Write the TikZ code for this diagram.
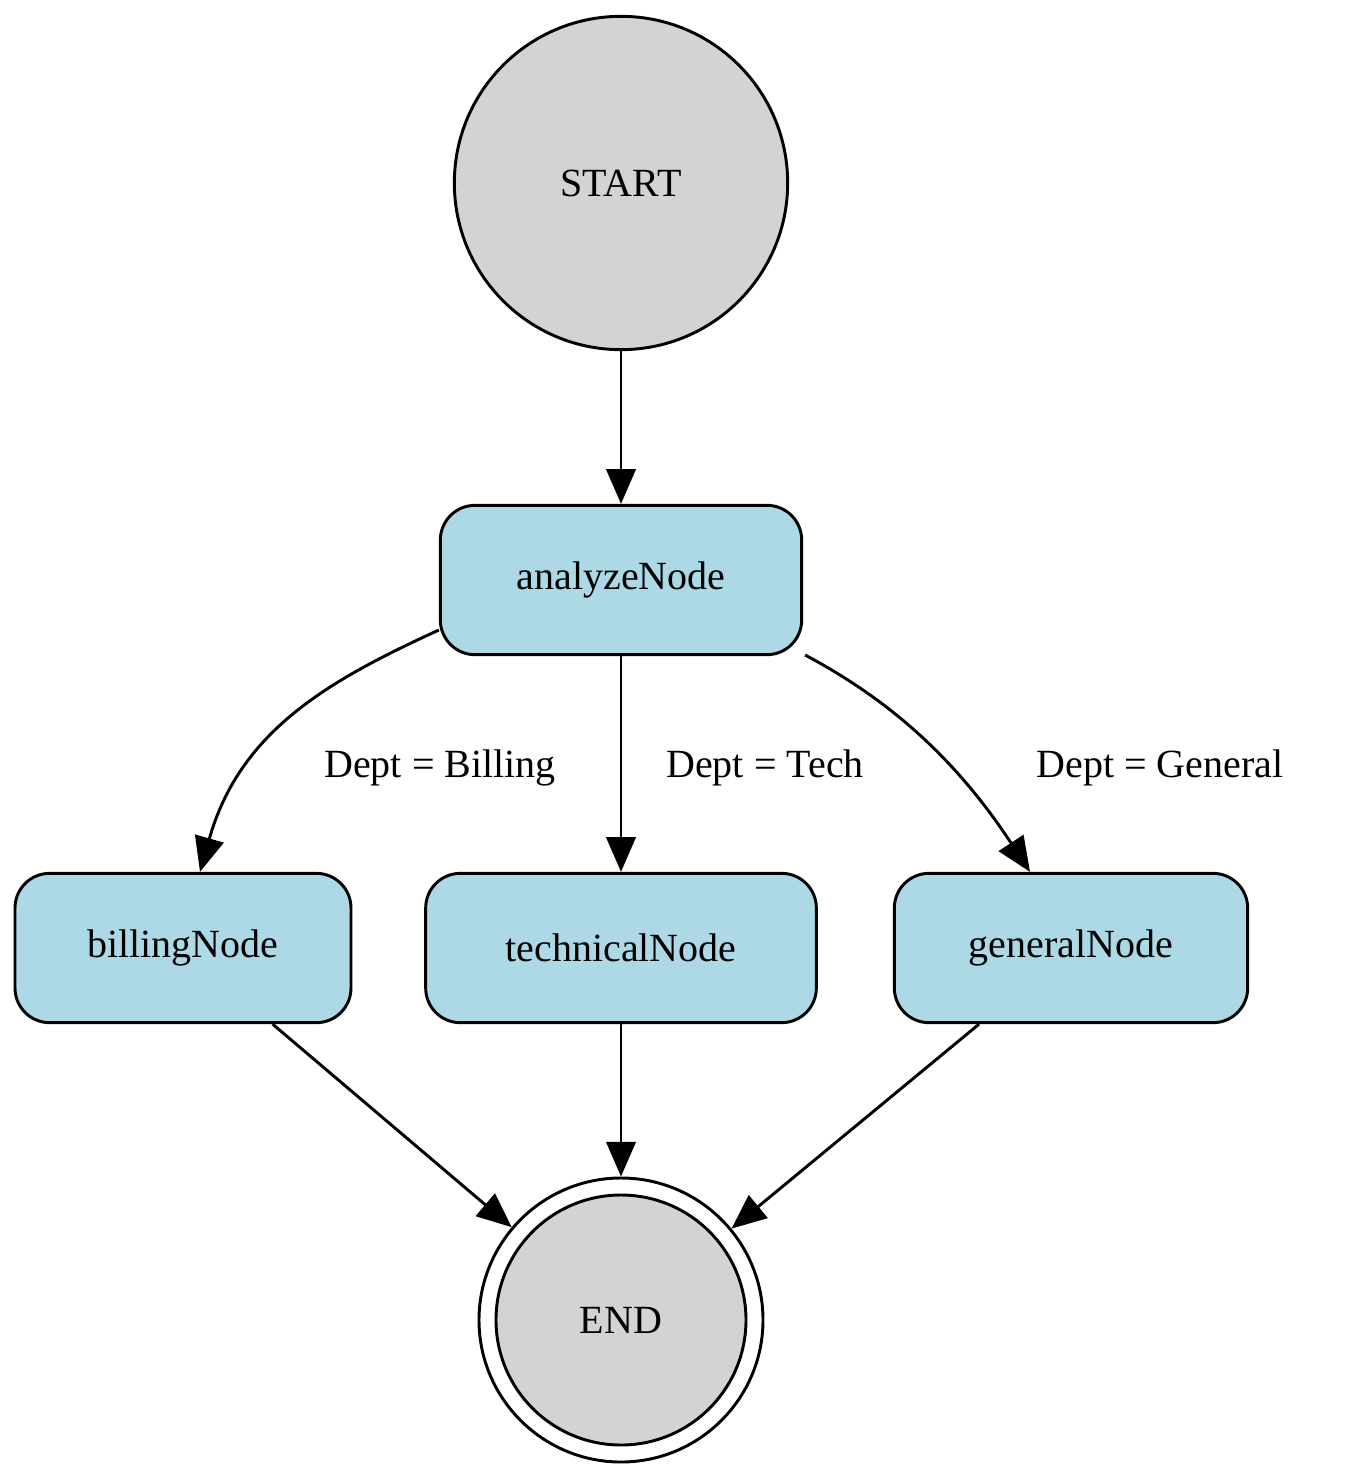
\documentclass[tikz,border=0pt]{standalone}
\usepackage{fontspec}
\setmainfont{Liberation Serif}
\usetikzlibrary{arrows.meta,calc}
\begin{document}
\begin{tikzpicture}[x=0.75pt,y=-0.75pt,
  every node/.style={font=\fontsize{30}{36}\selectfont},
  box/.style={draw,line width=2.2pt,fill={rgb,255:red,173;green,216;blue,230},rounded corners=26pt,minimum height=112pt,inner sep=0pt,align=center},
  term/.style={draw,line width=2.2pt,circle,inner sep=0pt},
  edge/.style={line width=2.2pt,-{Triangle[length=26pt,width=22pt]}},
  lbl/.style={anchor=center}]
\useasboundingbox (0,0) rectangle (1355,1477);
\node[term,fill={rgb,255:red,211;green,211;blue,211},minimum size=250pt] (start) at (621,183) {START};
\node[box,minimum width=271pt] (an) at (621,580) {analyzeNode};
\node[box,minimum width=252pt] (bill) at (183,948) {billingNode};
\node[box,minimum width=293pt] (tech) at (621,948) {technicalNode};
\node[box,minimum width=265pt] (gen) at (1071,948) {generalNode};
\node[term,minimum size=213pt] (end) at (621,1320) {};
\draw[line width=2.2pt,fill={rgb,255:red,211;green,211;blue,211}] (end.center) circle (125);
\node at (end.center) {END};
\draw[edge] (start) -- (an);
\draw[edge] (an.south) -- (tech.north);
\draw[edge] ($(an.west)+(0,50)$) .. controls (330,680) and (240,730) .. ($(bill.north)+(17,0)$);
\draw[edge] ($(an.east)+(2,75)$) .. controls (880,695) and (950,750) .. ($(gen.north)+(-41,0)$);
\draw[edge] (bill) -- (end);
\draw[edge] (tech) -- (end);
\draw[edge] (gen) -- (end);
\node[lbl] (l1) at (440,768) {Dept = Billing};
\node[lbl] (l2) at (765,768) {Dept = Tech};
\node[lbl] (l3) at (1160,768) {Dept = General};
\end{tikzpicture}
\end{document}
